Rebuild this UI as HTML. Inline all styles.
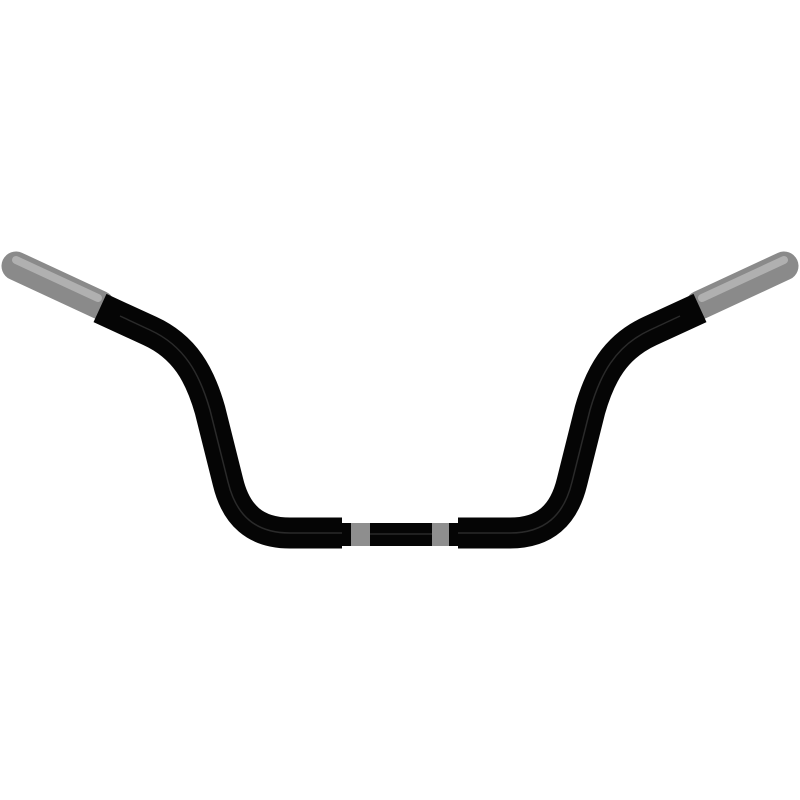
<!DOCTYPE html>
<html><head><style>html,body{margin:0;padding:0;background:#fff}svg{display:block}</style></head>
<body>
<svg width="800" height="800" viewBox="0 0 800 800" xmlns="http://www.w3.org/2000/svg">
<defs>
<linearGradient id="g" x1="0" y1="0" x2="0" y2="1">
<stop offset="0" stop-color="#b8b8b8"/><stop offset="0.4" stop-color="#8c8c8c"/><stop offset="1" stop-color="#6e6e6e"/>
</linearGradient>
</defs>
<!-- grips -->
<g stroke-linecap="round">
<line x1="16" y1="266" x2="100" y2="305" stroke="#8a8a8a" stroke-width="29"/>
<line x1="784" y1="266" x2="700" y2="305" stroke="#8a8a8a" stroke-width="29"/>
<line x1="16" y1="260" x2="98" y2="298" stroke="#b0b0b0" stroke-width="8"/>
<line x1="784" y1="260" x2="702" y2="298" stroke="#b0b0b0" stroke-width="8"/>
</g>
<!-- center thin section -->
<rect x="335" y="523" width="130" height="23" fill="#050505"/>
<rect x="351" y="523" width="19" height="23" fill="#8e8e8e"/>
<rect x="432" y="523" width="17" height="23" fill="#8e8e8e"/>
<!-- bent tube -->
<g fill="none" stroke="#050505" stroke-width="31" stroke-linejoin="round">
<path d="M100 308 L150 331 C185 347 200 375 210 410 L228 482 C236 515 255 533 290 533 L342 533"/>
<path d="M700 308 L650 331 C615 347 600 375 590 410 L572 482 C564 515 545 533 510 533 L458 533"/>
</g>
<g fill="none" stroke="#2a2a2a" stroke-width="1.5">
<path d="M120 316 L150 330 C185 346 200 375 210 410 L228 482 C236 515 255 533 290 533 L342 533"/>
<path d="M680 316 L650 330 C615 346 600 375 590 410 L572 482 C564 515 545 533 510 533 L458 533"/>
<line x1="370" y1="534" x2="432" y2="534"/>
</g>
</svg>
</body></html>
